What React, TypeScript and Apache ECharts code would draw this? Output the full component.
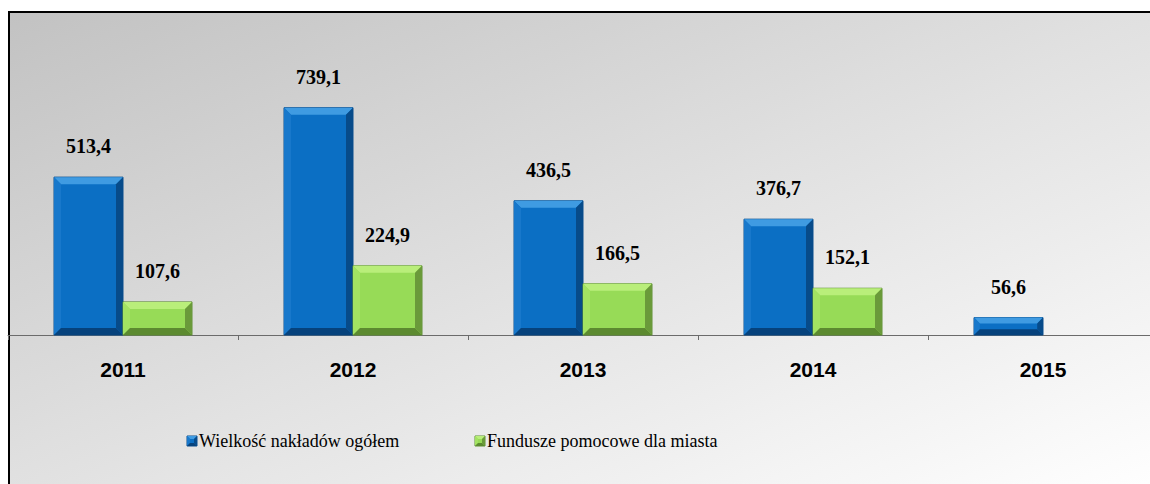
import React, { useEffect, useRef } from "react";
import * as echarts from "echarts";

const categories = ["2011", "2012", "2013", "2014", "2015"];
const seriesNames = ["Wielkość nakładów ogółem", "Fundusze pomocowe dla miasta"];
const totalValues: (number | null)[] = [513.4, 739.1, 436.5, 376.7, 56.6];
const fundValues: (number | null)[] = [107.6, 224.9, 166.5, 152.1, null];

const palettes = [
  { face: "#0b6fc4", top: "#3f9be2", left: "#1878cb", right: "#074b8a", bottom: "#06427c", edge: "#0a4f8f" },
  { face: "#97db57", top: "#b9ee7a", left: "#a3e262", right: "#6a9a3a", bottom: "#5c8a30", edge: "#5f8f35" },
];

const serif = "'Liberation Serif', 'DejaVu Serif', 'Times New Roman', serif";
const sans = "'Liberation Sans', Arial, sans-serif";

function fmt(v: number) {
  return v.toFixed(1).replace(".", ",");
}

function bevel(x0: number, y0: number, x1: number, y1: number, b: number, p: any) {
  return [
    { type: "rect", shape: { x: x0, y: y0, width: x1 - x0, height: y1 - y0 }, style: { fill: p.face, stroke: p.edge, lineWidth: 1 } },
    { type: "polygon", shape: { points: [[x0, y0], [x1, y0], [x1 - b, y0 + b], [x0 + b, y0 + b]] }, style: { fill: p.top } },
    { type: "polygon", shape: { points: [[x0, y0], [x0 + b, y0 + b], [x0 + b, y1 - b], [x0, y1]] }, style: { fill: p.left } },
    { type: "polygon", shape: { points: [[x1, y0], [x1, y1], [x1 - b, y1 - b], [x1 - b, y0 + b]] }, style: { fill: p.right } },
    { type: "polygon", shape: { points: [[x0, y1], [x0 + b, y1 - b], [x1 - b, y1 - b], [x1, y1]] }, style: { fill: p.bottom } },
  ];
}

function makeRender(seriesIdx: number) {
  const p = palettes[seriesIdx];
  return (params: any, api: any) => {
    const cat = api.value(0);
    const val = api.value(1);
    if (val == null || isNaN(val)) return null;
    const basePt = api.coord([cat, 0]);
    const topPt = api.coord([cat, val]);
    const bw = api.size([1, 0])[0];
    const w = bw * 0.3;
    const cx = basePt[0];
    const x0 = seriesIdx === 0 ? cx - w : cx;
    const x1 = x0 + w;
    const y0 = topPt[1];
    const y1 = basePt[1];
    const h = y1 - y0;
    const b = Math.min(7, h / 3, w / 3);
    return {
      type: "group",
      children: [
        ...bevel(x0, y0, x1, y1, b, p),
        {
          type: "text",
          x: (x0 + x1) / 2,
          y: y0 - 31,
          style: { text: fmt(val), font: `bold 20px ${serif}`, fill: "#000", align: "center", verticalAlign: "middle" },
        },
      ],
    };
  };
}

function toData(values: (number | null)[]) {
  const out: any[] = [];
  values.forEach((v, i) => {
    if (v != null) out.push([i, v]);
  });
  return out;
}

function legendGraphic() {
  const starts = [187, 475];
  const cy = 441;
  return seriesNames.map((name, i) => ({
    type: "group",
    x: starts[i],
    y: cy - 5,
    children: [
      ...bevel(0, 0, 10, 10, 3, palettes[i]),
      {
        type: "text",
        x: 12,
        y: 5,
        style: {
          text: name,
          fontFamily: serif,
          fontSize: 18,
          fontWeight: "normal",
          fill: "#000",
          align: "left",
          verticalAlign: "middle",
        },
      },
    ],
  }));
}

export default function App() {
  const ref = useRef<HTMLDivElement>(null);
  useEffect(() => {
    document.documentElement.style.overflow = "hidden";
    document.body.style.overflow = "hidden";
    if (!ref.current) return;
    const chart = echarts.init(ref.current, null, { renderer: "svg" });
    chart.setOption({
      animation: false,
      backgroundColor: "transparent",
      textStyle: { fontFamily: serif },
      grid: { left: 8, top: 89, width: 1150, height: 246, outerBoundsMode: "none", containLabel: false },
      xAxis: {
        type: "category",
        data: categories,
        axisLine: { lineStyle: { color: "#6b6b6b", width: 1 } },
        axisTick: { show: true, length: 5, lineStyle: { color: "#6b6b6b" } },
        axisLabel: { margin: 24, fontFamily: sans, fontWeight: "bold", fontSize: 21, color: "#000" },
      },
      yAxis: { type: "value", min: 0, max: 800, show: false, splitLine: { show: false } },
      graphic: legendGraphic(),
      series: [
        {
          type: "custom",
          name: seriesNames[0],
          itemStyle: { color: palettes[0].face },
          encode: { x: 0, y: 1 },
          data: toData(totalValues),
          renderItem: makeRender(0),
        },
        {
          type: "custom",
          name: seriesNames[1],
          itemStyle: { color: palettes[1].face },
          encode: { x: 0, y: 1 },
          data: toData(fundValues),
          renderItem: makeRender(1),
        },
      ],
    });
    return () => chart.dispose();
  }, []);
  return (
    <>
      <div
        style={{
          position: "absolute",
          left: 8,
          top: 11,
          width: 1160,
          height: 480,
          boxSizing: "border-box",
          borderLeft: "2px solid #000",
          borderTop: "2px solid #000",
          background: "linear-gradient(to bottom right, #c2c2c2 0%, #e1e1e1 50%, #ffffff 100%)",
        }}
      />
      <div ref={ref} style={{ position: "absolute", left: 0, top: 0, width: 1150, height: 484 }} />
    </>
  );
}
